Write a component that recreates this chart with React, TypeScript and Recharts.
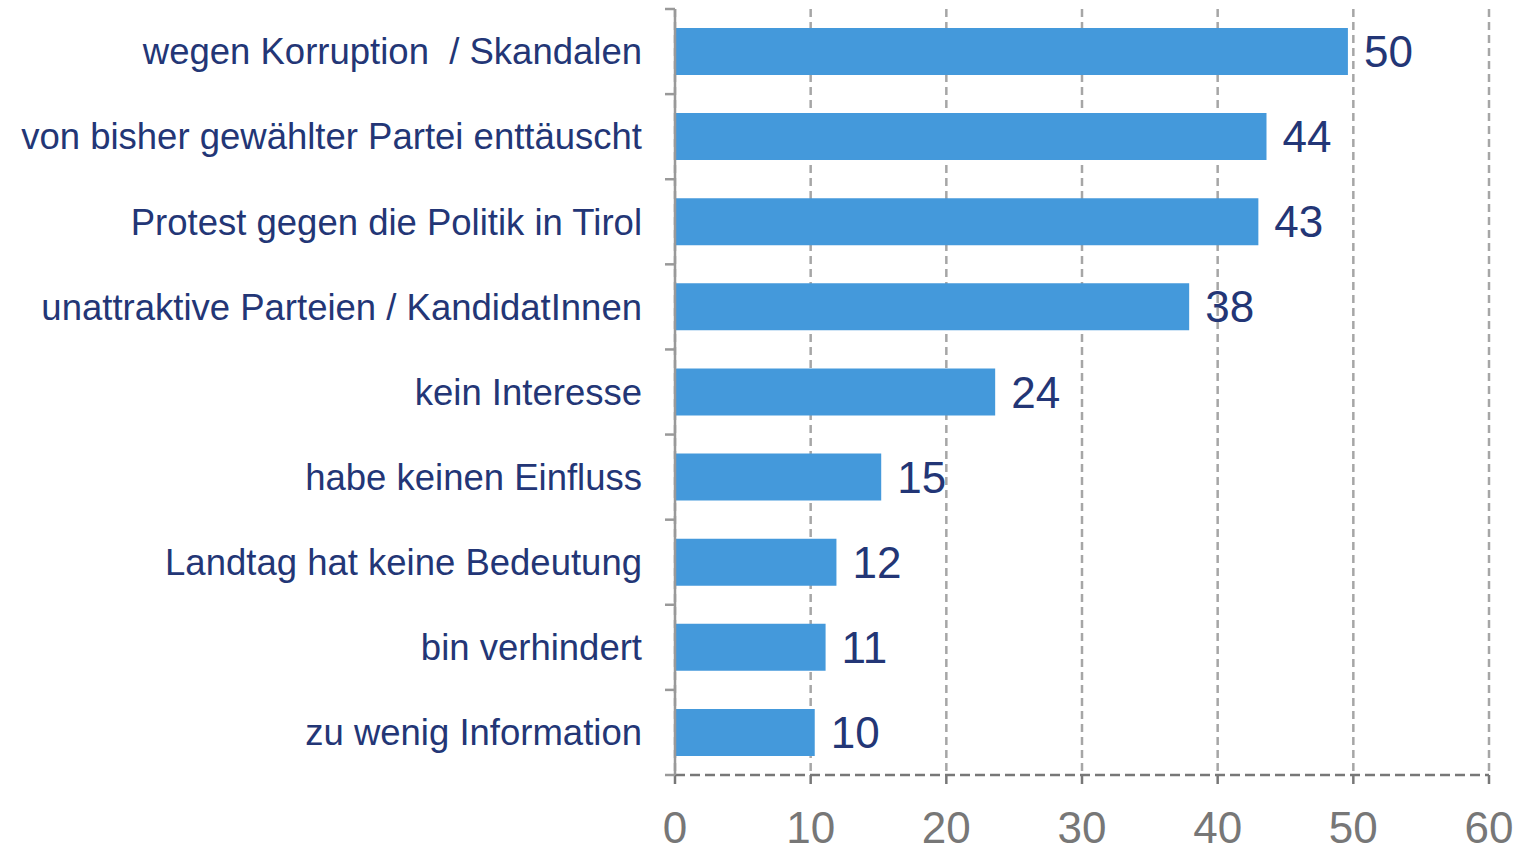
import React from 'react';
import { BarChart, Bar, XAxis, YAxis, CartesianGrid, LabelList } from 'recharts';

const categories = [
  'wegen Korruption  / Skandalen',
  'von bisher gewählter Partei enttäuscht',
  'Protest gegen die Politik in Tirol',
  'unattraktive Parteien / KandidatInnen',
  'kein Interesse',
  'habe keinen Einfluss',
  'Landtag hat keine Bedeutung',
  'bin verhindert',
  'zu wenig Information',
];
const values = [49.6, 43.6, 43.0, 37.9, 23.6, 15.2, 11.9, 11.1, 10.3];
const valueLabels = ['50', '44', '43', '38', '24', '15', '12', '11', '10'];
const xTicks = [0, 10, 20, 30, 40, 50, 60];

const data = categories.map((c, i) => ({ name: c, value: values[i], label: valueLabels[i] }));

const AXIS_X = 675;
const NAVY = '#233676';
const FONT = '"Liberation Sans", Arial, sans-serif';

const CategoryTick = (props: any) => {
  const { y, payload, index, visibleTicksCount } = props;
  const half = payload && payload.offset ? payload.offset : 42.5;
  const lines = [
    <line key="t" x1={AXIS_X - 10} x2={AXIS_X} y1={y - half} y2={y - half} stroke="#999" strokeWidth={2.5} />,
  ];
  if (index === visibleTicksCount - 1) {
    lines.push(
      <line key="b" x1={AXIS_X - 10} x2={AXIS_X} y1={y + half} y2={y + half} stroke="#999" strokeWidth={2.5} />
    );
  }
  return (
    <g>
      {lines}
      <text
        x={AXIS_X - 33}
        y={y}
        dy="0.35em"
        textAnchor="end"
        fontSize={36.5}
        fill={NAVY}
        fontFamily={FONT}
        style={{ whiteSpace: 'pre' }}
      >
        {payload.value}
      </text>
    </g>
  );
};

export default function App() {
  return (
    <div style={{ position: 'absolute', left: 0, top: 0 }}>
      <BarChart
        width={1523}
        height={849}
        data={data}
        layout="vertical"
        margin={{ top: 9, right: 34, bottom: 0, left: 0 }}
        barCategoryGap={0}
      >
        <CartesianGrid horizontal={false} stroke="#a6a6a6" strokeWidth={2.5} strokeDasharray="8 5" />
        <XAxis
          type="number"
          domain={[0, 60]}
          ticks={xTicks}
          height={74}
          axisLine={{ stroke: '#777', strokeWidth: 2.5, strokeDasharray: '10 5' }}
          tickLine={{ stroke: '#777', strokeWidth: 2.5 }}
          tickSize={9}
          tickMargin={28}
          tick={{ fontSize: 44, fill: '#777', fontFamily: FONT }}
          interval={0}
        />
        <YAxis
          type="category"
          dataKey="name"
          width={675}
          axisLine={{ stroke: '#999', strokeWidth: 2.5 }}
          tickLine={false}
          tick={<CategoryTick />}
          interval={0}
        />
        <Bar dataKey="value" fill="#4499DB" barSize={47} isAnimationActive={false}>
          <LabelList
            dataKey="label"
            position="right"
            offset={16}
            fill={NAVY}
            fontSize={44}
            fontFamily={FONT}
          />
        </Bar>
      </BarChart>
    </div>
  );
}
